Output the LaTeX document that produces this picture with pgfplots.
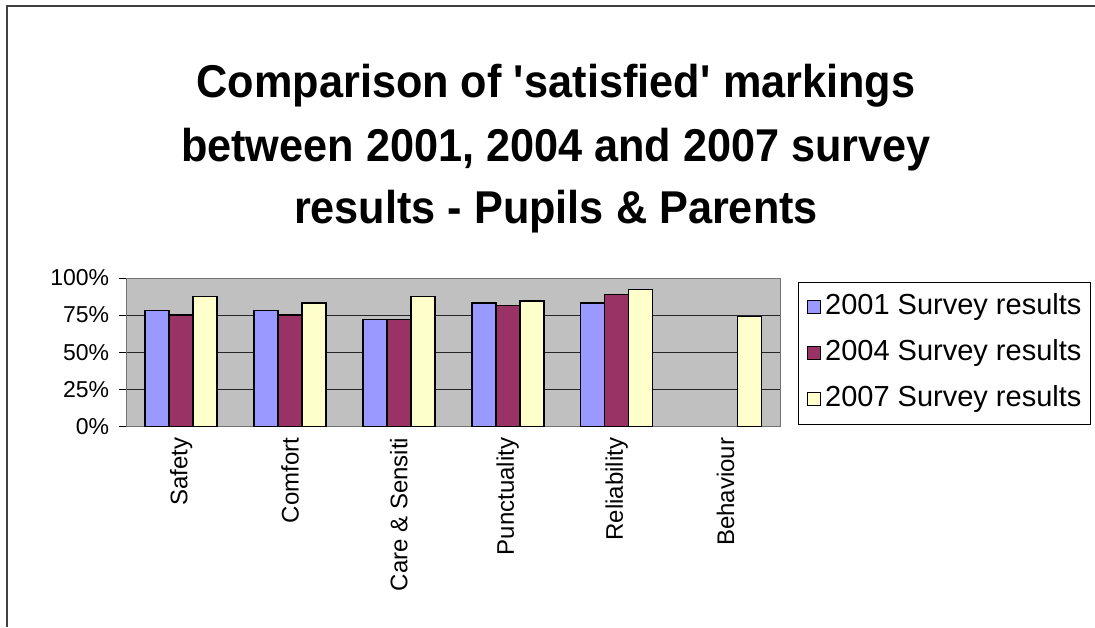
\documentclass[border=0pt]{standalone}
\usepackage{fontspec}
\setmainfont{Liberation Sans}
\newfontfamily\titlefont[FakeStretch=0.94]{Liberation Sans}
\usepackage{pgfplots}
\pgfplotsset{compat=1.18}
\definecolor{cA}{HTML}{9999FF}
\definecolor{cB}{HTML}{993366}
\definecolor{cC}{HTML}{FFFFCC}
\definecolor{plotbg}{HTML}{C0C0C0}
\begin{document}
\begin{tikzpicture}[x=1pt,y=1pt]
\path[use as bounding box] (0,0) rectangle (1095,627);
\draw[black!75, line width=2pt] (7,0) -- (7,621) -- (1095,621);
\node[anchor=base, font=\titlefont\fontsize{46}{54}\selectfont\bfseries] at (556,529) {Comparison of \textquotesingle satisfied\textquotesingle\ markings};
\node[anchor=base, font=\titlefont\fontsize{46}{54}\selectfont\bfseries] at (556,465) {between 2001, 2004 and 2007 survey};
\node[anchor=base, font=\titlefont\fontsize{46}{54}\selectfont\bfseries] at (556,403) {results - Pupils \& Parents};
\begin{axis}[
  at={(126.7pt,200.7pt)}, anchor=south west,
  scale only axis, width=653.3pt, height=148.3pt,
  xmin=-0.5, xmax=5.5, ymin=0, ymax=100,
  ybar=0pt, bar width=24pt,
  axis background/.style={fill=plotbg},
  axis line style={black!55, line width=1pt},
  ytick={0,25,50,75,100},
  yticklabels={0\%,25\%,50\%,75\%,100\%},
  ymajorgrids, major grid style={black!85, line width=0.9pt},
  xtick={0,1,2,3,4,5},
  xticklabels={Safety,Comfort,Care \& Sensiti,Punctuality,Reliability,Behaviour},
  xtick style={draw=none},
  minor xtick={-0.5,0.5,1.5,2.5,3.5,4.5,5.5},
  minor x tick style={black, line width=0.9pt},
  ytick style={black, line width=0.9pt},
  tick align=outside, major tick length=8pt, minor tick length=8pt,
  ytick pos=left, xtick pos=bottom,
  xticklabel style={font=\fontsize{24}{28}\selectfont, rotate=90, anchor=east},
  yticklabel style={font=\fontsize{23}{27}\selectfont, xshift=-6pt},
  legend style={at={(1.027,0.973)}, anchor=north west, draw=black, line width=1pt,
    fill=white, inner xsep=9pt, inner ysep=12pt, row sep=20pt, column sep=4pt,
    font=\fontsize{29}{33}\selectfont,
    nodes={inner sep=0pt, text height=20pt, text depth=6pt}},
  legend cell align=left,
  legend image code/.code={\draw[#1, line width=1pt, draw=black] (0pt,-6pt) rectangle (13pt,7pt);},
  every axis plot/.append style={draw=black, line width=1.5pt},
]
\addplot[fill=cA] coordinates {(0,78) (1,78) (2,72) (3,83) (4,83)};
\addplot[fill=cB] coordinates {(0,75) (1,75) (2,72) (3,81.5) (4,89)};
\addplot[fill=cC] coordinates {(0,87.5) (1,83) (2,87.5) (3,84.5) (4,92.3) (5,74)};
\legend{2001 Survey results,2004 Survey results,2007 Survey results}
\end{axis}
\end{tikzpicture}
\end{document}
